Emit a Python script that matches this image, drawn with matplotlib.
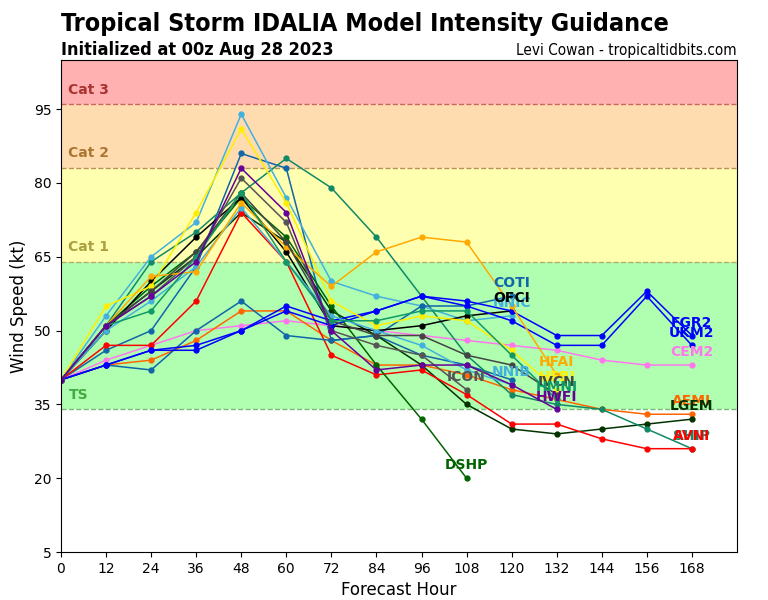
import matplotlib
matplotlib.use("Agg")
import matplotlib.pyplot as plt

hours = [0, 12, 24, 36, 48, 60, 72, 84, 96, 108, 120, 132, 144, 156, 168]

# intensity forecasts (kt), one list per model, starting at hour 0
AVNI = [40, 47, 47, 56, 74, 64, 45, 41, 42, 37, 31, 31, 28, 26, 26]
SHIP = [40, 51, 64, 70, 78, 85, 79, 69, 57, 45, 37, 35, 34, 30, 26]
DSHP = [40, 51, 59, 66, 77, 69, 55, 43, 32, 20]
LGEM = [40, 51, 58, 65, 74, 68, 54, 49, 43, 35, 30, 29, 30, 31, 32]
OFCI = [40, 50, 60, 69, 77, 66, 51, 50, 51, 53, 54]
NNIC = [40, 53, 65, 72, 94, 77, 60, 57, 55, 52, 53]
NNIB = [40, 50, 56, 63, 75, 64, 53, 50, 47, 42, 39]
HFBI = [40, 55, 59, 74, 91, 76, 56, 51, 53, 52, 46, 38]
HFAI = [40, 51, 61, 62, 76, 67, 59, 66, 69, 68, 55, 41]
COTI = [40, 43, 42, 50, 56, 49, 48, 49, 55, 55, 57]
CTCI = [40, 46, 50, 63, 86, 83, 48, 49, 45, 43, 40]
FGR2 = [40, 43, 46, 47, 50, 55, 52, 54, 57, 56, 54, 49, 49, 58, 49]
UKM2 = [40, 43, 46, 46, 50, 54, 51, 54, 57, 55, 52, 47, 47, 57, 47]
CEM2 = [40, 44, 47, 50, 51, 52, 51, 50, 49, 48, 47, 46, 44, 43, 43]
AEMI = [40, 43, 44, 48, 54, 54, 48, 43, 43, 41, 38, 36, 34, 33, 33]
ICON = [40, 51, 57, 65, 81, 72, 50, 47, 45, 38]
IVCN = [40, 51, 58, 66, 78, 68, 52, 49, 49, 45, 43, 37]
HWFI = [40, 51, 57, 64, 83, 74, 50, 42, 43, 43, 39, 34]
HMNI = [40, 51, 54, 65, 78, 64, 52, 52, 54, 54, 45, 36]

# (name, values, colour, show label) in drawing order
models = [
    ("CTCI", CTCI, "#1166aa", False),
    ("CEM2", CEM2, "#ff77ee", True),
    ("AEMI", AEMI, "#ff6600", True),
    ("LGEM", LGEM, "#003300", True),
    ("SHIP", SHIP, "#118866", True),
    ("AVNI", AVNI, "#ff0000", True),
    ("DSHP", DSHP, "#006400", True),
    ("NNIC", NNIC, "#44b0dd", True),
    ("COTI", COTI, "#1166aa", True),
    ("OFCI", OFCI, "#000000", True),
    ("FGR2", FGR2, "#0000ff", True),
    ("UKM2", UKM2, "#0000ff", True),
    ("NNIB", NNIB, "#44b0dd", True),
    ("ICON", ICON, "#555555", True),
    ("HFBI", HFBI, "#ffee00", True),
    ("HFAI", HFAI, "#ffaa00", True),
    ("IVCN", IVCN, "#444444", True),
    ("HMNI", HMNI, "#119966", True),
    ("HWFI", HWFI, "#660099", True),
]

# Saffir-Simpson bands: (low, high, fill, edge, label, label colour)
bands = [
    (34, 64, "#b0ffb0", "#77bb77", "TS", "#44aa44"),
    (64, 83, "#ffffb0", "#bbaa66", "Cat 1", "#aaa040"),
    (83, 96, "#ffdcb0", "#bb9060", "Cat 2", "#aa7733"),
    (96, 120, "#ffb0b0", "#cc6666", "Cat 3", "#aa3333"),
]

fig = plt.figure(figsize=(7.68, 6.0), dpi=100)
ax = fig.add_axes([0.0794, 0.08, 0.8802, 0.82])

for lo, hi, fill, edge, name, tcol in bands:
    ax.axhspan(lo, hi, color=fill, zorder=0, lw=0)
    ax.axhline(lo, color=edge, ls="--", lw=1, zorder=0.5)
    ax.text(2, lo + 3, name, color=tcol, fontsize=10, fontweight="bold",
            va="center", ha="left", zorder=1)

for name, vals, col, show in models:
    x = hours[:len(vals)]
    ax.plot(x, vals, color=col, lw=1.1, marker="o", ms=3.5, zorder=2)

for name, vals, col, show in models:
    if not show:
        continue
    ax.text(hours[len(vals) - 1], vals[-1] + 2.6, name, color=col,
            fontsize=10, fontweight="bold", ha="center", va="center", zorder=5)

ax.set_xlim(0, 180)
ax.set_ylim(5, 105)
ax.set_xticks(hours)
ax.set_yticks(range(5, 100, 15))
ax.tick_params(labelsize=10)
ax.set_xlabel("Forecast Hour", fontsize=12)
ax.set_ylabel("Wind Speed (kt)", fontsize=12)

fig.text(0.0794, 0.948, "Tropical Storm IDALIA Model Intensity Guidance",
         fontsize=18, fontweight="bold", fontstretch="condensed", va="baseline")
fig.text(0.0794, 0.908, "Initialized at 00z Aug 28 2023",
         fontsize=13, fontweight="bold", fontstretch="condensed", va="baseline")
fig.text(0.9596, 0.908, "Levi Cowan - tropicaltidbits.com",
         fontsize=11, fontstretch="condensed", ha="right", va="baseline")

fig.savefig("out.png", dpi=100)
